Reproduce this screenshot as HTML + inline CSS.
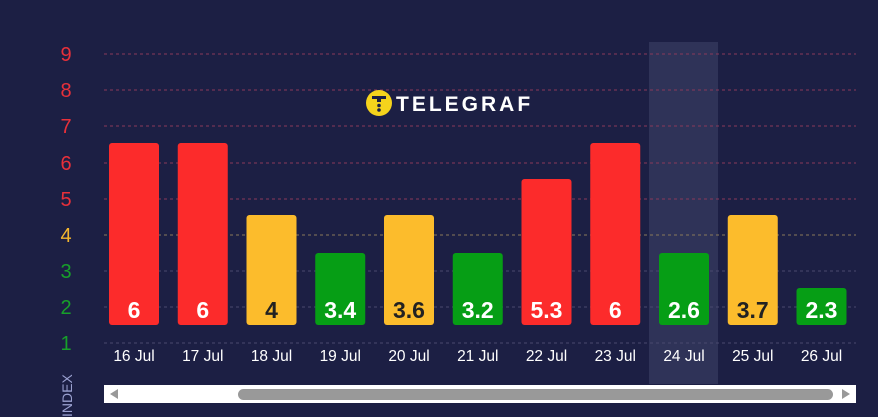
<!DOCTYPE html>
<html><head><meta charset="utf-8"><style>
html,body{margin:0;padding:0;background:#1c1f44;}
svg{display:block;font-family:"Liberation Sans",Arial,sans-serif;}
</style></head><body>
<svg width="878" height="417" viewBox="0 0 878 417">
<rect width="878" height="417" fill="#1c1f44"/>
<rect x="649" y="42" width="69" height="342" fill="#2f3358"/>
<g stroke-dasharray="3,3" stroke-width="1">
<line x1="104" y1="54" x2="856" y2="54" stroke="#8a3a5a"/>
<line x1="104" y1="90" x2="856" y2="90" stroke="#8a3a5a"/>
<line x1="104" y1="126" x2="856" y2="126" stroke="#8a3a5a"/>
<line x1="104" y1="163" x2="856" y2="163" stroke="#8a3a5a"/>
<line x1="104" y1="199" x2="856" y2="199" stroke="#8a3a5a"/>
<line x1="104" y1="235" x2="856" y2="235" stroke="#8a7a5a"/>
<line x1="104" y1="271" x2="856" y2="271" stroke="#4a4a6e"/>
<line x1="104" y1="307" x2="856" y2="307" stroke="#4a4a6e"/>
<line x1="104" y1="343" x2="856" y2="343" stroke="#4a4a6e"/>
</g>
<g font-size="20" text-anchor="middle">
<text x="66" y="61" fill="#e8303a">9</text>
<text x="66" y="97" fill="#e8303a">8</text>
<text x="66" y="133" fill="#e8303a">7</text>
<text x="66" y="170" fill="#e8303a">6</text>
<text x="66" y="206" fill="#e8303a">5</text>
<text x="66" y="242" fill="#f4b62e">4</text>
<text x="66" y="278" fill="#17a02a">3</text>
<text x="66" y="314" fill="#17a02a">2</text>
<text x="66" y="350" fill="#17a02a">1</text>
</g>
<text transform="translate(72,417) rotate(-90)" font-size="14" fill="#9aa0d0">INDEX</text>
<g id="logo">
<circle cx="379" cy="103" r="13" fill="#f5d31c"/>
<rect x="372" y="96" width="14" height="3" fill="#1c1f44"/>
<rect x="377" y="99" width="4" height="3" fill="#1c1f44"/>
<circle cx="379" cy="105.5" r="1.8" fill="#1c1f44"/>
<circle cx="379" cy="110" r="1.8" fill="#1c1f44"/>
<text x="396" y="111" font-size="21" font-weight="bold" fill="#fff" letter-spacing="3">TELEGRAF</text>
</g>
<g font-weight="bold" font-size="23" text-anchor="middle">
<rect x="109" y="143" width="50" height="182" rx="3" fill="#fc2b2b"/><text x="134" y="318" fill="#fff">6</text>
<rect x="177.75" y="143" width="50" height="182" rx="3" fill="#fc2b2b"/><text x="202.75" y="318" fill="#fff">6</text>
<rect x="246.5" y="215" width="50" height="110" rx="3" fill="#fcbc2c"/><text x="271.5" y="318" fill="#222">4</text>
<rect x="315.25" y="253" width="50" height="72" rx="3" fill="#069e15"/><text x="340.25" y="318" fill="#fff">3.4</text>
<rect x="384" y="215" width="50" height="110" rx="3" fill="#fcbc2c"/><text x="409" y="318" fill="#222">3.6</text>
<rect x="452.75" y="253" width="50" height="72" rx="3" fill="#069e15"/><text x="477.75" y="318" fill="#fff">3.2</text>
<rect x="521.5" y="179" width="50" height="146" rx="3" fill="#fc2b2b"/><text x="546.5" y="318" fill="#fff">5.3</text>
<rect x="590.25" y="143" width="50" height="182" rx="3" fill="#fc2b2b"/><text x="615.25" y="318" fill="#fff">6</text>
<rect x="659" y="253" width="50" height="72" rx="3" fill="#069e15"/><text x="684" y="318" fill="#fff">2.6</text>
<rect x="727.75" y="215" width="50" height="110" rx="3" fill="#fcbc2c"/><text x="752.75" y="318" fill="#222">3.7</text>
<rect x="796.5" y="288" width="50" height="37" rx="3" fill="#069e15"/><text x="821.5" y="318" fill="#fff">2.3</text>
</g>
<g font-size="15.5" fill="#fff" text-anchor="middle">
<text x="134" y="361">16 Jul</text><text x="202.75" y="361">17 Jul</text><text x="271.5" y="361">18 Jul</text>
<text x="340.25" y="361">19 Jul</text><text x="409" y="361">20 Jul</text><text x="477.75" y="361">21 Jul</text>
<text x="546.5" y="361">22 Jul</text><text x="615.25" y="361">23 Jul</text><text x="684" y="361">24 Jul</text>
<text x="752.75" y="361">25 Jul</text><text x="821.5" y="361">26 Jul</text>
</g>
<rect x="104" y="385" width="752" height="18" fill="#fff"/>
<rect x="238" y="389" width="595" height="11" rx="5.5" fill="#999"/>
<polygon points="110,394 118,389 118,399" fill="#999"/>
<polygon points="850,394 842,389 842,399" fill="#999"/>
</svg>
</body></html>
